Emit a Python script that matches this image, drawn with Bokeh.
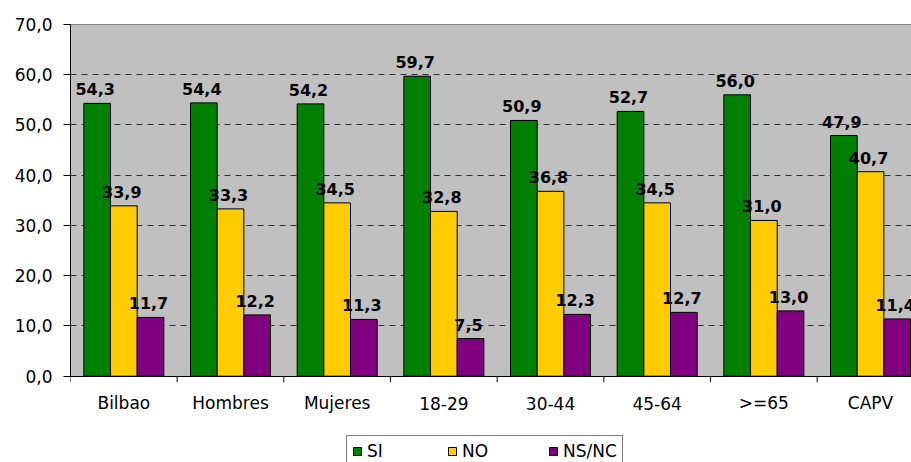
from bokeh.plotting import figure
from bokeh.models import Range1d, FixedTicker, Legend, LegendItem, ColumnDataSource
from bokeh.core.properties import value
from bokeh.embed import file_html
from bokeh.resources import INLINE

categories = ["Bilbao", "Hombres", "Mujeres", "18-29", "30-44", "45-64", ">=65", "CAPV"]
si = [54.3, 54.4, 54.2, 59.7, 50.9, 52.7, 56.0, 47.9]
no = [33.9, 33.3, 34.5, 32.8, 36.8, 34.5, 31.0, 40.7]
nsnc = [11.7, 12.2, 11.3, 7.5, 12.3, 12.7, 13.0, 11.4]
series_names = ["SI", "NO", "NS/NC"]
series_colors = ["#008000", "#FFCC00", "#800080"]
y_ticks = [0, 10, 20, 30, 40, 50, 60, 70]

# layout (pixels)
W, H = 911, 462
TOP, LEFT = 23, 70
PX_PER_UNIT = 351.7 / 70.0
frame_h = H - TOP
y_max = 70 + 1.0 / PX_PER_UNIT
y_min = y_max - frame_h / PX_PER_UNIT
x_max = (W - LEFT) / 106.67

p = figure(width=W, height=H,
           x_range=Range1d(0, x_max), y_range=Range1d(y_min, y_max),
           output_backend="svg", toolbar_location=None,
           x_axis_location=None,
           min_border_left=LEFT, min_border_right=0,
           min_border_top=TOP, min_border_bottom=0,
           background_fill_color="white", border_fill_color="white",
           outline_line_color=None)
p.grid.visible = False

# plot-area background
p.quad(left=[0], right=[x_max], bottom=[y_ticks[0]], top=[y_ticks[-1]],
       fill_color="#C0C0C0", line_color=None)
# top border of plot area
p.hspan(y=[y_ticks[-1]], line_color="#808080", line_width=1)
# dashed gridlines
p.hspan(y=y_ticks[1:-1], line_color="#303030", line_width=1, line_dash="6 5")

offsets = [-0.25, 0.0, 0.25]
renderers = []
sources = []
for vals, name, color, off in zip([si, no, nsnc], series_names, series_colors, offsets):
    xs = [i + 0.5 + off for i in range(len(categories))]
    src = ColumnDataSource(dict(x=xs, top=vals,
                                label=[f"{v:.1f}".replace(".", ",") for v in vals]))
    r = p.vbar(x="x", top="top", width=0.25, bottom=0, source=src,
               fill_color=color, line_color="black", line_width=1)
    renderers.append(r)
    sources.append(src)

for src in sources:
    p.text(x="x", y="top", text="label", source=src,
           text_font=value("DejaVu Sans"), text_font_style="bold",
           text_font_size="16px", text_color="black",
           text_align="center", text_baseline="alphabetic",
           x_offset=-2, y_offset=-14)

# category axis: line at zero, ticks at category bounds, labels at centers
centers = [i + 0.5 for i in range(len(categories))]
bounds = [float(i) for i in range(len(categories) + 1)]
tick_len = 6 / PX_PER_UNIT
p.hspan(y=[0], line_color="black", line_width=1)
p.segment(x0=bounds, y0=[0] * len(bounds), x1=bounds, y1=[-tick_len] * len(bounds),
          line_color="black", line_width=1)
p.text(x=centers, y=[0] * len(centers), text=categories,
       text_font=value("DejaVu Sans"), text_font_size="17px", text_color="black",
       text_align="center", text_baseline="middle", y_offset=27)

# y axis
yax = p.yaxis[0]
yax.bounds = (y_ticks[0], y_ticks[-1])
yax.ticker = FixedTicker(ticks=y_ticks)
yax.major_label_overrides = {t: f"{t:.1f}".replace(".", ",") for t in y_ticks}
yax.major_tick_out = 7
yax.major_tick_in = 0
yax.minor_tick_out = 0
yax.minor_tick_in = 0
yax.major_label_standoff = 11
yax.major_label_text_font = "DejaVu Sans"
yax.major_label_text_font_size = "17px"
yax.major_label_text_color = "black"
yax.axis_line_color = "black"
yax.major_tick_line_color = "black"

legend = Legend(items=[LegendItem(label=n, renderers=[r]) for n, r in zip(series_names, renderers)],
                location=(276, -5), orientation="horizontal",
                padding=5, margin=0, spacing=60, label_standoff=5,
                glyph_width=10, glyph_height=10, label_height=14,
                label_text_font="DejaVu Sans", label_text_font_size="17px",
                label_text_color="black",
                border_line_color="black", border_line_width=1,
                background_fill_color="white", background_fill_alpha=1.0)
p.add_layout(legend)

open("out.html", "w").write(file_html(p, INLINE))
